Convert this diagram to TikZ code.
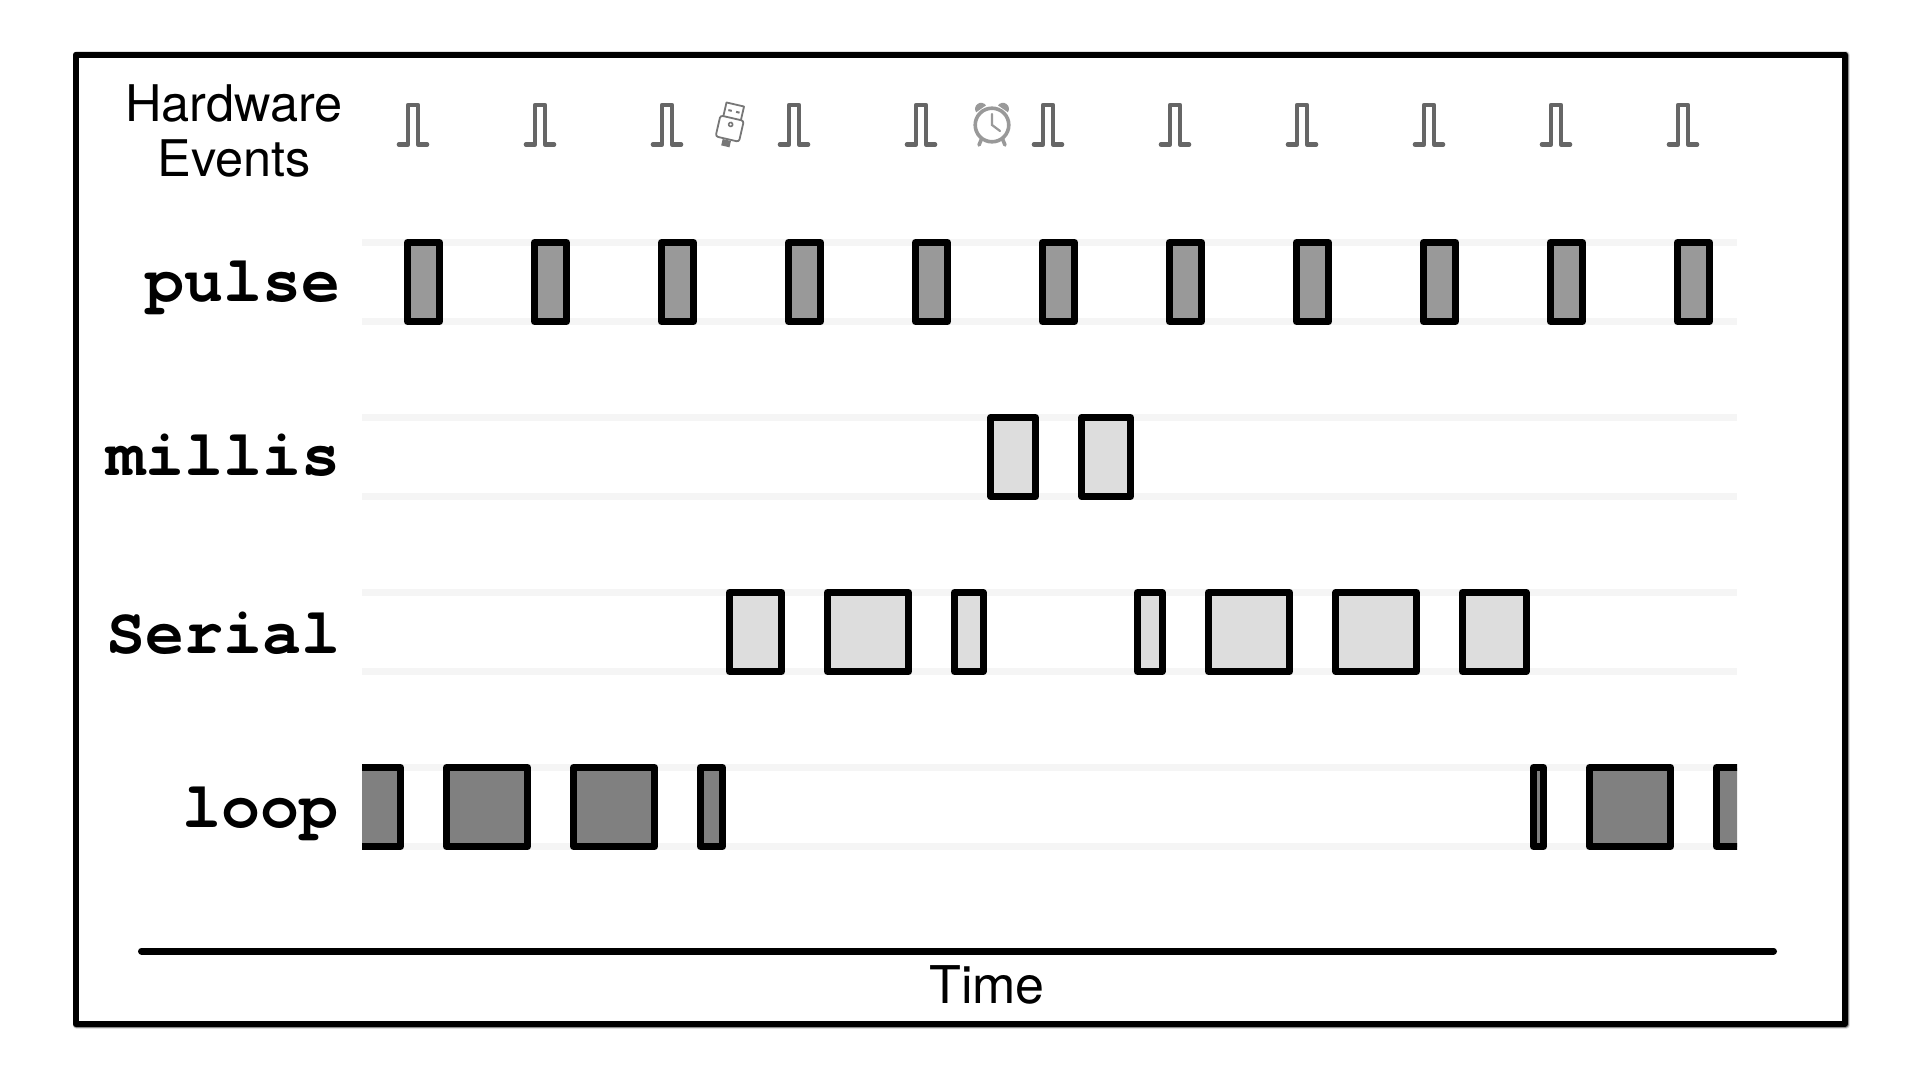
\documentclass[tikz,border=0pt]{standalone}
\usepackage{fontspec}
\setmainfont{TeX Gyre Heros}
\newfontfamily\monob{TeX Gyre Cursor}
\definecolor{band}{HTML}{F5F5F5}
\definecolor{pulsefill}{HTML}{999999}
\definecolor{loopfill}{HTML}{808080}
\definecolor{lightfill}{HTML}{DDDDDD}
\definecolor{sig}{HTML}{666666}
\definecolor{usbc}{HTML}{777777}
\definecolor{clockc}{HTML}{999999}
\tikzset{
  x=1pt,y=-1pt,
  frameline/.style={draw=black,line width=6pt,line join=round},
  bandline/.style={draw=band,line width=7pt},
  task/.style={draw=black,line width=7pt,line join=round},
  sigline/.style={draw=sig,line width=4.6pt,line cap=round,line join=round},
  usbline/.style={draw=usbc,line width=1.8pt,line join=round},
  clockline/.style={draw=clockc,line width=2.6pt,line cap=round},
  rowlabel/.style={anchor=base east,inner sep=0pt,font=\fontsize{65}{65}\selectfont\monob\bfseries},
  sanslabel/.style={inner sep=0pt,font=\fontsize{50}{55}\selectfont,align=center}
}
\begin{document}
\begin{tikzpicture}
\useasboundingbox (0,0) rectangle (1920,1080);
\fill[white] (0,0) rectangle (1920,1080);
% frame with soft edge
\draw[draw=black!12,line width=8.5pt,line join=round] (76.8,55.3) rectangle (1845.8,1024.8);
\draw[draw=black!45,line width=7pt,line join=round] (76.5,55) rectangle (1845.5,1024.5);
\draw[frameline,fill=white] (76,54.5) rectangle (1845,1024);
% labels
\node[sanslabel,anchor=base,font=\fontsize{50.5}{55}\selectfont] (hw) at (234,176) {Hardware\\Events};
\node[rowlabel] (pulse) at (341,301) {pulse};
\node[rowlabel] (millis) at (341,475) {millis};
\node[rowlabel] (serial) at (341,653) {Serial};
\node[rowlabel] (loop) at (339,827) {loop};
% bands
\foreach \y in {242.5,417.5,592.5,767.5}{
  \draw[bandline] (362,\y) -- (1737,\y);
  \draw[bandline] (362,\y+79) -- (1737,\y+79);
}
% hardware pulses
\foreach \i in {0,...,10}{
  \begin{scope}[shift={(413+127*\i,0)}]
    \draw[sigline] (-14,144.5) -- (-5,144.5) -- (-5,105) -- (5,105) -- (5,144.5) -- (14,144.5);
  \end{scope}
}
% pulse task
\foreach \i in {0,...,10}{
  \draw[task,fill=pulsefill] (407.5+127*\i,242.5) rectangle (439.5+127*\i,321.5);
}
% millis
\foreach \a/\b in {990.8/1035.5,1081.8/1130.5}{
  \draw[task,fill=lightfill] (\a,417.5) rectangle (\b,496.5);
}
% Serial
\foreach \a/\b in {729.5/781.5,827.5/908.5,954.5/983.2,1137.5/1162.2,1208.5/1289.5,1335.8/1416.5,1462.5/1526.2}{
  \draw[task,fill=lightfill] (\a,592.5) rectangle (\b,671.5);
}
% loop
\begin{scope}
\clip (362,750) rectangle (1737,860);
\foreach \a/\b in {330/400.5,446.5/527.5,573.5/654.5,700.5/722.5,1533.5/1543.5,1589.5/1670.5,1716.5/1790}{
  \draw[task,fill=loopfill] (\a,767.5) rectangle (\b,846.5);
}
\end{scope}
% time axis
\coordinate (ta) at (141.5,951);
\coordinate (tb) at (1773.5,951);
\draw[draw=black,line width=7pt,line cap=round] (ta) -- (tb);
\node[sanslabel,anchor=base,font=\fontsize{52}{55}\selectfont] (time) at (987,1003) {Time};
% USB icon
\begin{scope}[shift={(731,123)},rotate=-13]
  \draw[usbline,rounded corners=2.5pt] (-12,-5) rectangle (12,16.5);
  \draw[usbline] (-9,-5) -- (-9,-19) -- (9,-19) -- (9,-5);
  \fill[usbc] (-4.5,17.5) rectangle (4,24);
  \draw[usbc,line width=1.6pt] (0,1.5) circle (2);
  \fill[usbc] (-5.5,-13) rectangle (-2,-11);
  \fill[usbc] (2.5,-13) rectangle (6,-11);
\end{scope}
% alarm clock icon
\begin{scope}[shift={(992,125)}]
  \draw[draw=clockc,line width=3.6pt] (0,0) circle (16.8);
  \draw[clockline,line width=2.2pt] (0,-11) -- (0,0) -- (8,6);
  \draw[clockline,line width=3.6pt] (-10.5,14) -- (-13,20);
  \draw[clockline,line width=3.6pt] (10.5,14) -- (13,20);
  \fill[clockc,rotate around={35:(-11.5,-17)}] (-5.5,-16) -- (-17.5,-16) arc[start angle=180,end angle=360,radius=6] -- cycle;
  \fill[clockc,rotate around={-35:(11.5,-17)}] (5.5,-16) -- (17.5,-16) arc[start angle=0,end angle=-180,radius=6] -- cycle;
\end{scope}
\end{tikzpicture}
\end{document}
